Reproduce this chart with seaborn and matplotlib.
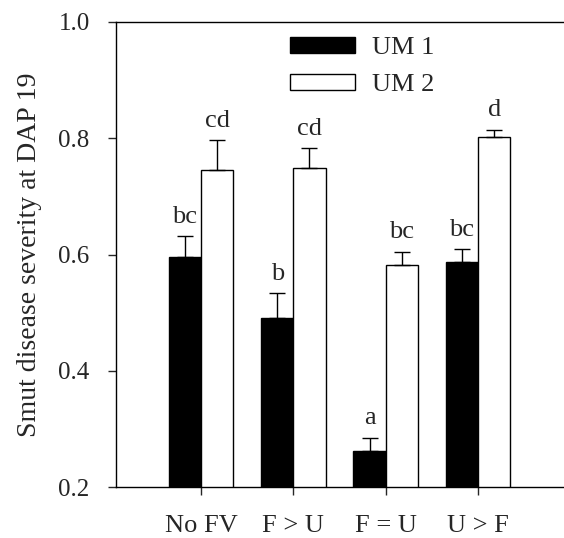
import matplotlib
matplotlib.use("Agg")
import matplotlib.pyplot as plt
import seaborn as sns
import pandas as pd
from matplotlib.patches import Patch

categories = ["No FV", "F > U", "F = U", "U > F"]
um1_values = [0.595, 0.491, 0.262, 0.587]
um2_values = [0.745, 0.748, 0.582, 0.802]
um1_err = [0.037, 0.042, 0.023, 0.023]
um2_err = [0.052, 0.035, 0.023, 0.013]
um1_letters = ["bc", "b", "a", "bc"]
um2_letters = ["cd", "cd", "bc", "d"]
series = ["UM 1", "UM 2"]
y_ticks = [0.2, 0.4, 0.6, 0.8, 1.0]

sns.set_style("ticks")
plt.rcParams["font.family"] = ["Liberation Serif", "DejaVu Serif"]

FS = 19

df = pd.DataFrame({
    "cat": categories * 2,
    "series": [series[0]] * 4 + [series[1]] * 4,
    "value": um1_values + um2_values,
})

fig = plt.figure(figsize=(5.64, 5.38), dpi=100)
ax = fig.add_axes([116 / 564, 1 - 487 / 538, (563 - 116) / 564, (487 - 22) / 538])

sns.barplot(data=df, x="cat", y="value", hue="series", order=categories,
            hue_order=series, palette=["black", "white"], edgecolor="black",
            linewidth=1.0, width=0.7, errorbar=None, ax=ax, legend=False)

errs = um1_err + um2_err
letters = um1_letters + um2_letters
for p, e, lt in zip(list(ax.patches), errs, letters):
    xc = p.get_x() + p.get_width() / 2
    h = p.get_height()
    ax.errorbar([xc], [h], yerr=[[0], [e]], fmt="none", ecolor="black",
                elinewidth=1.0, capsize=6, capthick=1.0)
    ax.text(xc, h + e + 0.014, lt, ha="center", va="bottom", fontsize=FS)

ax.set_ylim(0.2, 1.0)
ax.set_xlim(-0.92, 3.92)
ax.set_yticks(y_ticks)
ax.set_yticklabels([f"{v:.1f}" for v in y_ticks])
ax.set_xlabel("")
ax.set_ylabel("Smut disease severity at DAP 19", fontsize=20)
ax.yaxis.set_label_coords(-0.165, 0.5)
ax.tick_params(axis="both", labelsize=FS, direction="out", length=6, width=1)
ax.tick_params(axis="y", labelsize=18, pad=13)
ax.tick_params(axis="x", pad=14)
for s in ax.spines.values():
    s.set_linewidth(1.0)
    s.set_color("black")
ax.spines["right"].set_visible(False)

handles = [Patch(facecolor="black", edgecolor="black", label=series[0]),
           Patch(facecolor="white", edgecolor="black", label=series[1])]
ax.legend(handles=handles, loc="upper left", bbox_to_anchor=(0.389, 0.968),
          borderaxespad=0, borderpad=0, frameon=False, fontsize=FS,
          handlelength=2.45, handleheight=0.55, labelspacing=0.55,
          handletextpad=0.65)

fig.savefig("out.png", dpi=100)
